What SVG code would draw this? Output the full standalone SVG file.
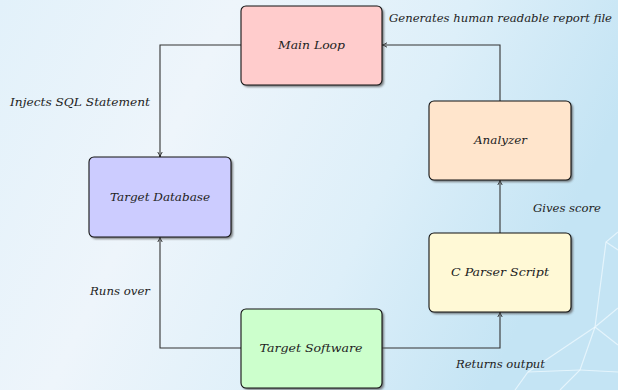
<svg xmlns="http://www.w3.org/2000/svg" width="618" height="390" viewBox="0 0 618 390">
  <defs>
    <linearGradient id="bg" x1="0" y1="0" x2="1" y2="0.3">
      <stop offset="0" stop-color="#e2f1fa"/>
      <stop offset="0.35" stop-color="#eef5fb"/>
      <stop offset="0.7" stop-color="#ddeff9"/>
      <stop offset="1" stop-color="#c4e4f4"/>
    </linearGradient>
    <filter id="soft" x="-10%" y="-10%" width="130%" height="130%">
      <feGaussianBlur stdDeviation="1"/>
    </filter>
    <marker id="arrow" viewBox="0 0 6 6" refX="5.5" refY="3" markerWidth="6" markerHeight="6" markerUnits="userSpaceOnUse" orient="auto">
      <path d="M0.5,0.8 Q3,2.4 5.5,3 Q3,3.6 0.5,5.2" fill="none" stroke="#222" stroke-width="0.9"/>
    </marker>
    <style>
      .box { stroke: #111; stroke-width: 1.1; }
      .shadow { fill: #555; opacity: 0.75; filter: url(#soft); }
      .wire { fill: none; stroke: #333; stroke-width: 1.1; marker-end: url(#arrow); }
      .mesh { fill: none; stroke: #f2fbff; stroke-width: 1.2; opacity: 0.7; }
      text { font-family: "DejaVu Serif", "Liberation Serif", serif; font-style: italic; font-size: 10.5px; fill: #222; }
      .c { text-anchor: middle; }
    </style>
  </defs>

  <!-- background -->
  <rect x="0" y="0" width="618" height="390" fill="url(#bg)"/>
  <g id="backdrop-mesh">
    <polyline class="mesh" points="618,232 606,242 595,327 618,308"/>
    <polyline class="mesh" points="606,242 618,250"/>
    <polyline class="mesh" points="595,327 618,345"/>
    <polyline class="mesh" points="595,327 580,370 560,390"/>
    <polyline class="mesh" points="595,327 528,372 515,390"/>
    <polyline class="mesh" points="580,370 618,372"/>
    <polyline class="mesh" points="528,372 580,370"/>
  </g>

  <!-- connectors -->
  <g id="connectors">
    <polyline class="wire" points="241,45 160,45 160,157"/>
    <polyline class="wire" points="241,348 160,348 160,237"/>
    <polyline class="wire" points="382,348 500,348 500,312"/>
    <polyline class="wire" points="500,233 500,180"/>
    <polyline class="wire" points="500,101 500,45 382,45"/>
  </g>

  <!-- connector labels -->
  <g id="labels">
    <text x="389" y="22" textLength="223" lengthAdjust="spacingAndGlyphs">Generates human readable report file</text>
    <text x="10" y="106" textLength="140" lengthAdjust="spacingAndGlyphs">Injects SQL Statement</text>
    <text x="533" y="212" textLength="68" lengthAdjust="spacingAndGlyphs">Gives score</text>
    <text x="90" y="295" textLength="60" lengthAdjust="spacingAndGlyphs">Runs over</text>
    <text x="456" y="368" textLength="89" lengthAdjust="spacingAndGlyphs">Returns output</text>
  </g>

  <!-- nodes -->
  <g id="main-loop">
    <rect class="shadow" x="243" y="8" width="141" height="79" rx="5"/>
    <rect class="box" x="241" y="6" width="141" height="79" rx="5" fill="#ffcccc"/>
    <text class="c" x="311.5" y="49" textLength="67" lengthAdjust="spacingAndGlyphs">Main Loop</text>
  </g>

  <g id="target-database">
    <rect class="shadow" x="91" y="159" width="142" height="80" rx="5"/>
    <rect class="box" x="89" y="157" width="142" height="80" rx="5" fill="#ccccff"/>
    <text class="c" x="160" y="201" textLength="100" lengthAdjust="spacingAndGlyphs">Target Database</text>
  </g>

  <g id="analyzer">
    <rect class="shadow" x="431" y="103" width="142" height="79" rx="5"/>
    <rect class="box" x="429" y="101" width="142" height="79" rx="5" fill="#ffe5cc"/>
    <text class="c" x="500.5" y="144" textLength="53" lengthAdjust="spacingAndGlyphs">Analyzer</text>
  </g>

  <g id="c-parser-script">
    <rect class="shadow" x="431" y="235" width="142" height="79" rx="5"/>
    <rect class="box" x="429" y="233" width="142" height="79" rx="5" fill="#fff9d6"/>
    <text class="c" x="500" y="276" textLength="98" lengthAdjust="spacingAndGlyphs">C Parser Script</text>
  </g>

  <g id="target-software">
    <rect class="shadow" x="243" y="311" width="141" height="79" rx="5"/>
    <rect class="box" x="241" y="309" width="141" height="79" rx="5" fill="#ccffcc"/>
    <text class="c" x="311" y="352" textLength="103" lengthAdjust="spacingAndGlyphs">Target Software</text>
  </g>
</svg>
